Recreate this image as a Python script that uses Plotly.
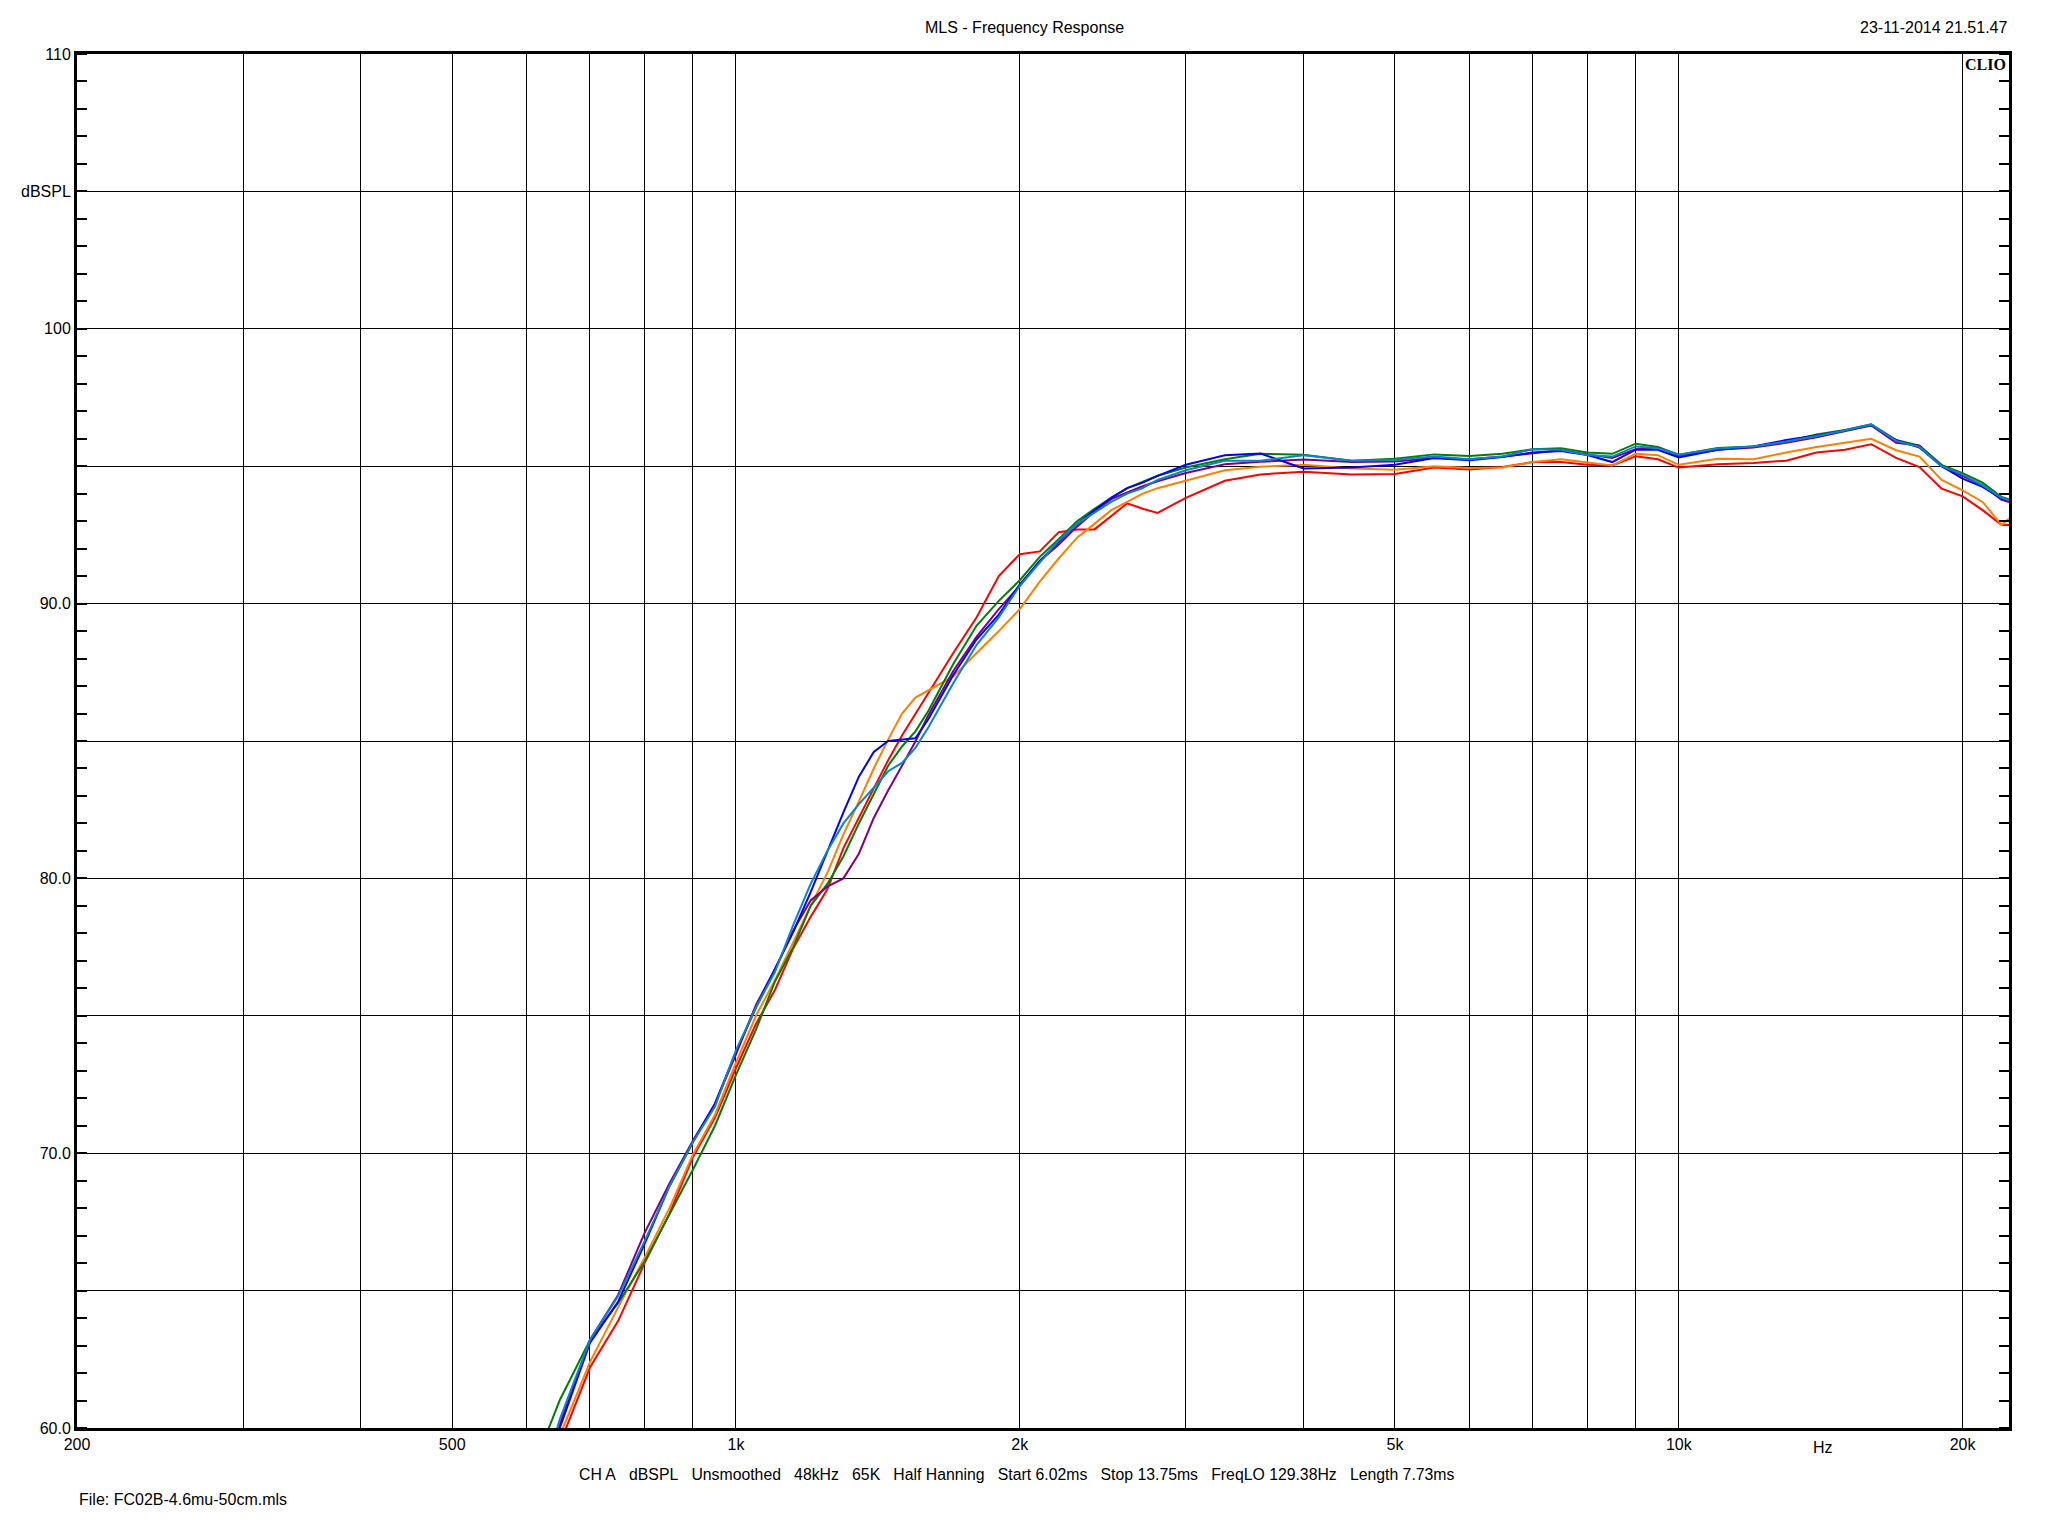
import math
import plotly.graph_objects as go

# ---------------- data ----------------
freq_hz = [620, 650, 700, 750, 800, 850, 900, 950, 1000, 1050, 1100, 1150, 1200, 1250,
           1300, 1350, 1400, 1450, 1500, 1550, 1600, 1700, 1800, 1900, 2000, 2100, 2200,
           2300, 2400, 2500, 2600, 2700, 2800, 3000, 3300, 3600, 4000, 4500, 5000, 5500,
           6000, 6500, 7000, 7500, 8000, 8500, 9000, 9500, 10000, 11000, 12000, 13000,
           14000, 15000, 16000, 17000, 18000, 19000, 20000, 21000, 22000, 22400]

red_db = [57.2, 59.4, 62.2, 63.9, 66.0, 67.8, 69.85, 71.3, 73.1, 74.7, 75.95, 77.45, 78.6, 79.6,
          81.1, 82.2, 83.3, 84.3, 85.2, 85.98, 86.75, 88.2, 89.5, 91.0, 91.8, 91.9, 92.6,
          92.7, 92.7, 93.2, 93.65, 93.45, 93.3, 93.85, 94.47, 94.7, 94.8, 94.7, 94.72, 94.95,
          94.88, 94.97, 95.15, 95.15, 95.05, 95.03, 95.36, 95.25, 94.95, 95.07, 95.12, 95.2,
          95.5, 95.6, 95.8, 95.3, 94.97, 94.18, 93.9, 93.4, 92.86, 92.86]

orange_db = [57.7, 59.7, 62.4, 64.4, 66.2, 68.0, 69.95, 71.4, 73.3, 75.0, 76.3, 77.7, 79.0, 80.2,
             81.6, 82.8, 84.0, 85.05, 86.0, 86.58, 86.85, 87.35, 88.2, 89.0, 89.8, 90.8, 91.65,
             92.4, 92.9, 93.4, 93.7, 94.0, 94.2, 94.48, 94.85, 94.98, 95.05, 94.92, 94.87, 95.0,
             94.93, 94.95, 95.15, 95.25, 95.13, 95.03, 95.45, 95.4, 95.05, 95.27, 95.25, 95.5,
             95.7, 95.86, 96.0, 95.58, 95.35, 94.5, 94.12, 93.7, 92.86, 93.1]

green_db = [59.2, 61.0, 63.2, 64.55, 66.06, 67.75, 69.4, 71.0, 72.85, 74.5, 76.25, 77.5, 79.0, 79.8,
            80.8, 82.0, 83.1, 84.1, 84.8, 85.35, 86.1, 87.8, 89.2, 90.1, 90.85, 91.7, 92.35,
            93.0, 93.45, 93.85, 94.2, 94.42, 94.65, 94.95, 95.25, 95.45, 95.42, 95.2, 95.27, 95.43,
            95.37, 95.45, 95.62, 95.65, 95.5, 95.45, 95.82, 95.7, 95.42, 95.66, 95.72, 95.9,
            96.15, 96.32, 96.52, 95.95, 95.75, 95.05, 94.75, 94.4, 93.88, 93.8]

purple_db = [58.0, 60.1, 63.2, 64.85, 67.1, 68.9, 70.45, 71.8, 73.6, 75.4, 76.7, 78.1, 79.2, 79.7,
             80.0, 80.9, 82.2, 83.2, 84.1, 84.98, 85.95, 87.55, 88.8, 89.8, 90.65, 91.55, 92.15,
             92.8, 93.35, 93.8, 94.05, 94.27, 94.45, 94.75, 95.07, 95.16, 95.24, 95.15, 95.17, 95.3,
             95.25, 95.35, 95.47, 95.58, 95.43, 95.3, 95.62, 95.68, 95.38, 95.6, 95.68, 95.85,
             96.05, 96.27, 96.48, 95.85, 95.75, 95.0, 94.65, 94.3, 93.78, 93.7]

blue_db = [58.0, 60.0, 63.1, 64.6, 66.7, 68.8, 70.4, 71.8, 73.7, 75.3, 76.7, 78.05, 79.5, 81.0,
           82.4, 83.7, 84.6, 85.0, 85.05, 85.1, 85.8, 87.4, 88.7, 89.6, 90.7, 91.55, 92.25,
           92.9, 93.4, 93.85, 94.2, 94.4, 94.65, 95.05, 95.4, 95.46, 94.92, 94.95, 95.05, 95.3,
           95.22, 95.33, 95.5, 95.55, 95.41, 95.15, 95.6, 95.6, 95.32, 95.6, 95.72, 95.95,
           96.12, 96.3, 96.5, 95.95, 95.68, 95.0, 94.55, 94.25, 93.82, 93.77]

lightblue_db = [57.8, 60.3, 63.2, 64.8, 66.8, 68.8, 70.4, 71.7, 73.75, 75.3, 76.6, 78.3, 79.8, 81.0,
                82.0, 82.7, 83.3, 83.9, 84.2, 84.75, 85.5, 87.1, 88.5, 89.5, 90.65, 91.5, 92.3,
                92.9, 93.3, 93.7, 94.0, 94.2, 94.5, 94.85, 95.2, 95.2, 95.4, 95.2, 95.23, 95.35,
                95.25, 95.35, 95.62, 95.6, 95.41, 95.35, 95.72, 95.65, 95.42, 95.64, 95.72, 95.9,
                96.1, 96.3, 96.52, 95.92, 95.7, 95.0, 94.7, 94.3, 93.85, 93.77]

x_grid_hz = [200, 300, 400, 500, 600, 700, 800, 900, 1000, 2000, 3000, 4000, 5000, 6000,
             7000, 8000, 9000, 10000, 20000]
x_labels = ["200", "", "", "500", "", "", "", "", "1k", "2k", "", "", "5k", "", "", "", "",
            "10k", "20k"]
y_grid_db = [60, 65, 70, 75, 80, 85, 90, 95, 100, 105, 110]
y_labels = ["60.0", "", "70.0", "", "80.0", "", "90.0", "", "100", "dBSPL", "110"]

x_min_hz, x_max_hz = 200, 22400
y_min_db, y_max_db = 60, 110

# ---------------- figure ----------------
series = [
    (red_db, "#FF0000"),
    (orange_db, "#FF8000"),
    (green_db, "#008000"),
    (purple_db, "#800080"),
    (blue_db, "#0000FF"),
    (lightblue_db, "#0A84C8"),
]

fig = go.Figure()
for vals, col in series:
    fig.add_trace(go.Scatter(x=freq_hz, y=vals, mode="lines",
                             line=dict(color=col, width=2), hoverinfo="skip"))

FONT = "Liberation Sans, Arial, sans-serif"

fig.update_layout(
    width=2048, height=1536,
    margin=dict(l=77, r=39, t=54, b=108, pad=0),
    paper_bgcolor="white", plot_bgcolor="white",
    showlegend=False,
    font=dict(family=FONT, size=16, color="#000000"),
)

fig.update_xaxes(
    type="log",
    range=[math.log10(x_min_hz), math.log10(x_max_hz)],
    tickmode="array", tickvals=x_grid_hz, ticktext=x_labels,
    showgrid=True, gridcolor="#000000", gridwidth=1.3,
    showline=True, linecolor="#000000", linewidth=3, mirror=True,
    ticks="", zeroline=False,
    tickfont=dict(family=FONT, size=16, color="#000000"),
)
fig.update_yaxes(
    range=[y_min_db, y_max_db],
    tickmode="array", tickvals=y_grid_db, ticktext=y_labels,
    showgrid=True, gridcolor="#000000", gridwidth=1.3,
    showline=True, linecolor="#000000", linewidth=3, mirror="ticks",
    ticks="", zeroline=False,
    minor=dict(dtick=1, tick0=60, ticks="inside", ticklen=10, tickwidth=1.5,
               tickcolor="#000000", showgrid=False),
    tickfont=dict(family=FONT, size=16, color="#000000"),
)

L, R, T, B = 77, 2009, 54, 1428


def px_to_paper(px, py):
    return (px - L) / (R - L), (B - py) / (B - T)


def add_text(text, px, py, xanchor, yanchor, size=16, family=FONT):
    x, y = px_to_paper(px, py)
    fig.add_annotation(text=text, x=x, y=y, xref="paper", yref="paper",
                       xanchor=xanchor, yanchor=yanchor, showarrow=False,
                       font=dict(family=family, size=size, color="#000000"))


add_text("MLS - Frequency Response", 1024, 27, "center", "middle")
add_text("23-11-2014 21.51.47", 2009, 27, "right", "middle")
add_text("<b>CLIO</b>", 2008, 54, "right", "top", size=16,
         family="Liberation Serif, Times New Roman, serif")
add_text("Hz", 1823, 1447, "center", "middle")
sp = "\u00a0\u00a0\u00a0"
info = sp.join(["CH A", "dBSPL", "Unsmoothed", "48kHz", "65K", "Half Hanning",
                "Start 6.02ms", "Stop 13.75ms", "FreqLO 129.38Hz", "Length 7.73ms"])
add_text(info, 1017, 1474, "center", "middle", size=15.8)
add_text("File: FC02B-4.6mu-50cm.mls", 77, 1500, "left", "middle")

fig.write_html("out.html", config={"displayModeBar": False},
               post_script="document.body.style.margin='0';")
